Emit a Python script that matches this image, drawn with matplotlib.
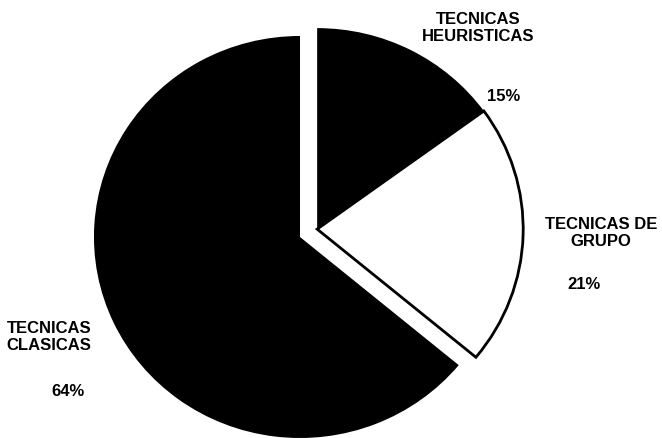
import numpy as np
import matplotlib.pyplot as plt

# Distribución de técnicas (porcentajes)
categorias = ["TECNICAS\nHEURISTICAS", "TECNICAS DE\nGRUPO", "TECNICAS\nCLASICAS"]
porcentajes = [15, 21, 64]
colores = ["black", "white", "black"]
separadas = [True, True, False]

fig = plt.figure(figsize=(6.62, 4.39), dpi=100)
ax = fig.add_axes([0, 0, 1, 1])
ax.set_facecolor("white")

wedges, _ = ax.pie(porcentajes, colors=colores, startangle=90,
                   counterclock=False, radius=1.0,
                   wedgeprops=dict(edgecolor="black", linewidth=0))

# El grupo de porciones separadas se desplaza en bloque hacia su ángulo medio
total = sum(porcentajes)
frac_sep = sum(p for p, s in zip(porcentajes, separadas) if s) / total
ang_medio = np.deg2rad(90 - 360 * frac_sep / 2)
desplaz = 0.092
for w, s, c in zip(wedges, separadas, colores):
    if s:
        w.set_center((desplaz * np.cos(ang_medio), desplaz * np.sin(ang_medio)))
    if c == "white":
        w.set_linewidth(2.0)
        w.set_edgecolor("black")

# el círculo queda algo más ancho que alto
ax.set_xlim(-1.456, 1.757)
ax.set_ylim(-1.0, 1.184)
ax.set_aspect("auto")
ax.axis("off")

# Etiquetas y porcentajes (coordenadas en fracción de la figura)
fuente = dict(family="Liberation Sans", fontweight="bold", fontsize=12,
              color="black", ha="center", va="center", linespacing=1.2)
pos_nombre = [(0.722, 0.936), (0.908, 0.469), (0.074, 0.232)]
pos_pct = [(0.761, 0.781), (0.882, 0.351), (0.103, 0.109)]
for nombre, p, pn, pp in zip(categorias, porcentajes, pos_nombre, pos_pct):
    fig.text(pn[0], pn[1], nombre, **fuente)
    fig.text(pp[0], pp[1], f"{p}%", **fuente)

fig.savefig("out.png", dpi=100, facecolor="white")
